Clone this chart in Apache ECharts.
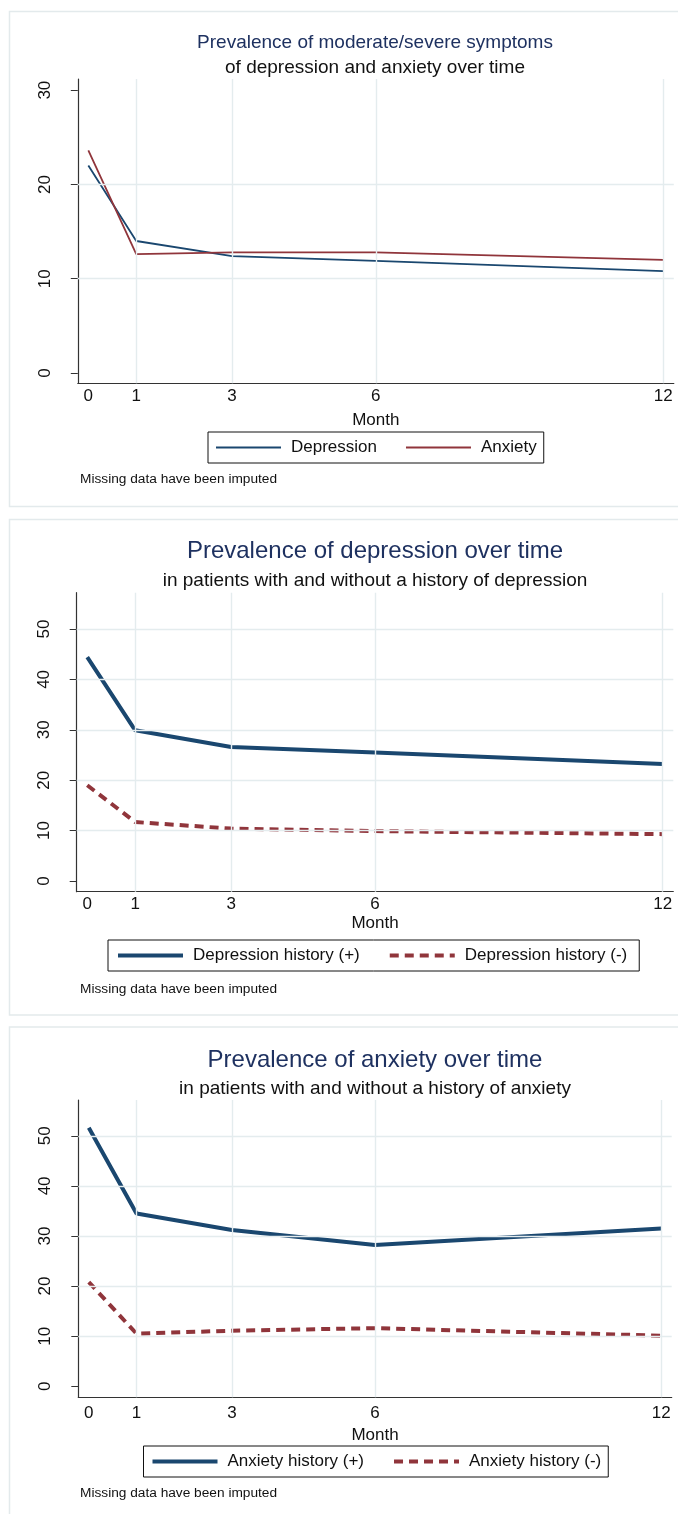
<!DOCTYPE html>
<html>
<head>
<meta charset="utf-8">
<script src="https://cdn.jsdelivr.net/npm/echarts@6/dist/echarts.min.js"></script>
<style>
  html, body { margin: 0; padding: 0; background: #fff; }
  #chart { width: 678px; height: 1514px; }
</style>
</head>
<body>
<div id="chart"></div>
<script>
// months of follow-up
const months = [0, 1, 3, 6, 12]
const monthGrid = [1, 3, 6, 12]

// panel 1: prevalence of moderate/severe symptoms (%)
const depression = [22.0, 14.0, 12.4, 11.9, 10.8]
const anxiety = [23.6, 12.6, 12.8, 12.8, 12.0]

// panel 2: by depression history
const depHistPos = [44.4, 29.9, 26.6, 25.5, 23.2]
const depHistNeg = [19.0, 11.7, 10.4, 9.9, 9.3]

// panel 3: by anxiety history
const anxHistPos = [51.6, 34.5, 31.2, 28.2, 31.5]
const anxHistNeg = [20.8, 10.5, 11.1, 11.6, 10.1]

// y tick labels
const yTicks1 = [0, 10, 20, 30]
const yTicks23 = [0, 10, 20, 30, 40, 50]
const yGrid1 = [10, 20]
const yGrid23 = [10, 20, 30, 40, 50]

const font = "'Liberation Sans', Arial, sans-serif"
const navy = '#1a476f'
const maroon = '#90353b'
const gridColor = '#e4ecee'
const titleColor = '#1e3160'

const pair = (ys) => months.map((m, i) => [m, ys[i]])

const chart = echarts.init(document.getElementById('chart'), null, { renderer: 'canvas' })

function xAxis(gridIndex, nameGap, margin) {
  return {
    gridIndex,
    type: 'value',
    min: -0.22,
    max: 12.22,
    name: 'Month',
    nameLocation: 'middle',
    nameGap,
    nameTextStyle: { fontFamily: font, fontSize: 17, color: '#111' },
    axisLine: { show: true, onZero: false, lineStyle: { color: '#333', width: 1.2 } },
    axisTick: { show: false },
    axisLabel: { customValues: months, fontFamily: font, fontSize: 17, color: '#111', margin },
    splitLine: { show: false }
  }
}

function yAxis(gridIndex, min, max, ticks) {
  return {
    gridIndex,
    type: 'value',
    min,
    max,
    axisLine: { show: true, onZero: false, lineStyle: { color: '#333', width: 1.2 } },
    axisTick: { show: true, customValues: ticks, length: 7, lineStyle: { color: '#333' } },
    axisLabel: { customValues: ticks, rotate: 90, margin: 24, fontFamily: font, fontSize: 17, color: '#111' },
    splitLine: { show: false }
  }
}

// light grid lines drawn through the axes' own scales
function gridSeries(idx, yGrid) {
  return {
    type: 'line',
    xAxisIndex: idx,
    yAxisIndex: idx,
    data: [],
    silent: true,
    z: 1,
    markLine: {
      silent: true,
      symbol: 'none',
      label: { show: false },
      lineStyle: { color: gridColor, width: 1.4, type: 'solid' },
      data: monthGrid.map(v => ({ xAxis: v })).concat(yGrid.map(v => ({ yAxis: v })))
    }
  }
}

function lineSeries(idx, name, ys, color, width, dashed) {
  return {
    type: 'line',
    name,
    xAxisIndex: idx,
    yAxisIndex: idx,
    data: pair(ys),
    symbol: 'none',
    z: 3,
    color,
    lineStyle: { color, width, type: dashed ? [9, 6] : 'solid' }
  }
}

function legend(left, top, names, pad, lineWidth) {
  return {
    left,
    top,
    orient: 'horizontal',
    data: names,
    selectedMode: false,
    padding: pad,
    borderColor: '#111',
    borderWidth: 1,
    itemWidth: 65,
    itemHeight: 14,
    itemGap: 28,
    itemStyle: { opacity: 0 },
    lineStyle: { width: lineWidth },
    textStyle: { fontFamily: font, fontSize: 17, color: '#111', padding: [0, 0, 0, 5] }
  }
}

function title(text, y, size, color) {
  return {
    text,
    left: 375,
    top: y - size / 2,
    textAlign: 'center',
    padding: 0,
    textStyle: { fontFamily: font, fontSize: size, lineHeight: size, fontWeight: 'normal', color }
  }
}

function note(y) {
  return {
    text: 'Missing data have been imputed',
    left: 80,
    top: y - 7,
    padding: 0,
    textStyle: { fontFamily: font, fontSize: 13.7, lineHeight: 14, fontWeight: 'normal', color: '#111' }
  }
}

const option = {
  animation: false,
  backgroundColor: '#fff',
  title: [
    title('Prevalence of moderate/severe symptoms', 42.5, 19, titleColor),
    title('of depression and anxiety over time', 68, 19, '#111'),
    note(479),
    title('Prevalence of depression over time', 551.7, 24, titleColor),
    title('in patients with and without a history of depression', 580.5, 19, '#111'),
    note(989),
    title('Prevalence of anxiety over time', 1060, 24, titleColor),
    title('in patients with and without a history of anxiety', 1088.5, 19, '#111'),
    note(1493)
  ],
  graphic: [
    { type: 'rect', silent: true, z: -10, shape: { x: 9.5, y: 11.5, width: 700, height: 495 }, style: { fill: 'none', stroke: '#e3eaec', lineWidth: 1.5 } },
    { type: 'rect', silent: true, z: -10, shape: { x: 9.5, y: 519.5, width: 700, height: 495.5 }, style: { fill: 'none', stroke: '#e3eaec', lineWidth: 1.5 } },
    { type: 'rect', silent: true, z: -10, shape: { x: 9.5, y: 1027, width: 700, height: 600 }, style: { fill: 'none', stroke: '#e3eaec', lineWidth: 1.5 } }
  ],
  grid: [
    { left: 77.8, top: 79, width: 596, height: 304.3 },
    { left: 76.7, top: 592.7, width: 596.6, height: 299 },
    { left: 78.3, top: 1100, width: 593.4, height: 297.3 }
  ],
  xAxis: [xAxis(0, 28.5, 5), xAxis(1, 23, 4.5), xAxis(2, 29.5, 7.5)],
  yAxis: [
    yAxis(0, -1.09, 31.18, yTicks1),
    yAxis(1, -2.12, 57.2, yTicks23),
    yAxis(2, -2.2, 57.15, yTicks23)
  ],
  legend: [
    legend(208, 432, ['Depression', 'Anxiety'], [7, 7, 7, 7], 2),
    legend(108, 940, ['Depression history (+)', 'Depression history (-)'], [7, 12, 7, 8], 4),
    legend(143.5, 1446, ['Anxiety history (+)', 'Anxiety history (-)'], [7, 7, 7, 7], 4)
  ],
  series: [
    gridSeries(0, yGrid1),
    gridSeries(1, yGrid23),
    gridSeries(2, yGrid23),
    lineSeries(0, 'Depression', depression, navy, 1.8, false),
    lineSeries(0, 'Anxiety', anxiety, maroon, 1.8, false),
    lineSeries(1, 'Depression history (+)', depHistPos, navy, 4, false),
    lineSeries(1, 'Depression history (-)', depHistNeg, maroon, 4, true),
    lineSeries(2, 'Anxiety history (+)', anxHistPos, navy, 4, false),
    lineSeries(2, 'Anxiety history (-)', anxHistNeg, maroon, 4, true)
  ]
}

chart.setOption(option)
</script>
</body>
</html>
